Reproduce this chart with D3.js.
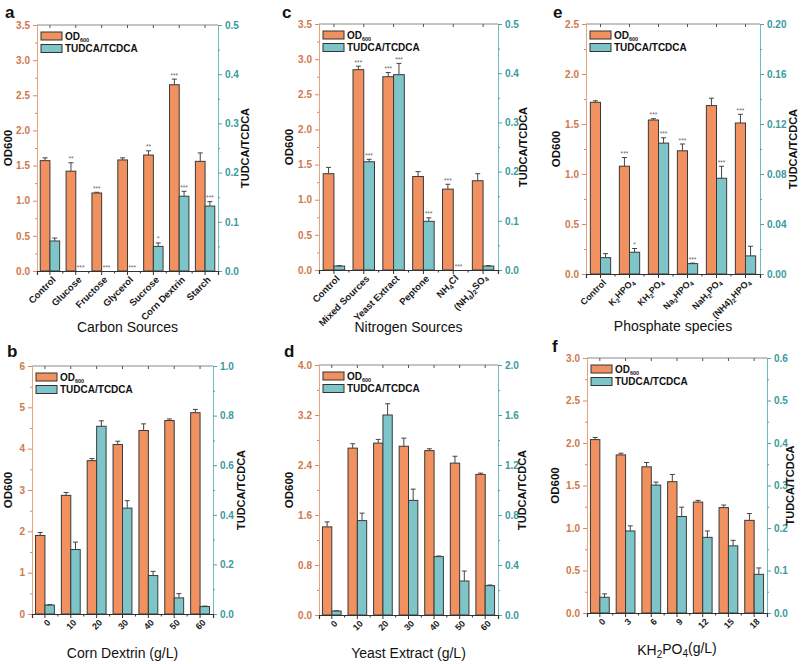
<!DOCTYPE html>
<html>
<head>
<meta charset="utf-8">
<script src="https://cdn.jsdelivr.net/npm/d3@7"></script>
<style>
  body { margin: 0; background: #fff; }
  svg { font-family: "Liberation Sans", Arial, sans-serif; }
</style>
</head>
<body>
<script>
// ---- a: carbon sources
const carbonCats = ["Control", "Glucose", "Fructose", "Glycerol", "Sucrose", "Corn Dextrin", "Starch"];
const carbonOD = [1.57, 1.42, 1.11, 1.58, 1.65, 2.65, 1.56];
const carbonODErr = [0.04, 0.12, 0.01, 0.03, 0.06, 0.08, 0.12];
const carbonRatio = [0.061, 0, 0, 0, 0.05, 0.152, 0.132];
const carbonRatioErr = [0.006, 0, 0, 0, 0.007, 0.01, 0.009];
const carbonODSig = ["", "**", "***", "", "**", "***", ""];
const carbonRatioSig = ["", "***", "***", "***", "*", "***", "***"];

// ---- c: nitrogen sources
const nitroCats = ["Control", "Mixed Sources", "Yeast Extract", "Peptone", "NH_4Cl", "(NH_4)_2SO_4"];
const nitroOD = [1.37, 2.85, 2.75, 1.33, 1.15, 1.27];
const nitroODErr = [0.09, 0.05, 0.06, 0.07, 0.07, 0.1];
const nitroRatio = [0.008, 0.22, 0.397, 0.099, 0, 0.008];
const nitroRatioErr = [0.001, 0.005, 0.023, 0.007, 0, 0.001];
const nitroODSig = ["", "***", "***", "", "***", ""];
const nitroRatioSig = ["", "***", "***", "***", "***", ""];

// ---- e: phosphate species
const phosCats = ["Control", "K_2HPO_4", "KH_2PO_4", "Na_2HPO_4", "NaH_2PO_4", "(NH4)_2HPO_4"];
const phosOD = [1.717, 1.078, 1.54, 1.232, 1.684, 1.51];
const phosODErr = [0.015, 0.087, 0.013, 0.068, 0.074, 0.087];
const phosRatio = [0.0131, 0.0174, 0.1047, 0.0083, 0.0766, 0.0145];
const phosRatioErr = [0.0032, 0.003, 0.0043, 0.0004, 0.0096, 0.0077];
const phosODSig = ["", "***", "***", "***", "", "***"];
const phosRatioSig = ["", "*", "***", "***", "***", ""];

// ---- b: corn dextrin
const dextrinCats = ["0", "10", "20", "30", "40", "50", "60"];
const dextrinOD = [1.9, 2.87, 3.71, 4.1, 4.44, 4.68, 4.87];
const dextrinODErr = [0.07, 0.07, 0.05, 0.08, 0.16, 0.04, 0.08];
const dextrinRatio = [0.036, 0.26, 0.757, 0.427, 0.155, 0.065, 0.03];
const dextrinRatioErr = [0.002, 0.03, 0.022, 0.03, 0.017, 0.017, 0.002];

// ---- d: yeast extract
const yeastCats = ["0", "10", "20", "30", "40", "50", "60"];
const yeastOD = [1.41, 2.67, 2.75, 2.7, 2.63, 2.43, 2.25];
const yeastODErr = [0.08, 0.07, 0.06, 0.13, 0.03, 0.11, 0.02];
const yeastRatio = [0.032, 0.755, 1.6, 0.917, 0.467, 0.272, 0.235];
const yeastRatioErr = [0.002, 0.06, 0.09, 0.09, 0.005, 0.08, 0.005];

// ---- f: KH2PO4
const khCats = ["0", "3", "6", "9", "12", "15", "18"];
const khOD = [2.04, 1.86, 1.72, 1.545, 1.305, 1.24, 1.09];
const khODErr = [0.025, 0.02, 0.05, 0.085, 0.02, 0.03, 0.08];
const khRatio = [0.037, 0.193, 0.301, 0.227, 0.178, 0.158, 0.091];
const khRatioErr = [0.008, 0.012, 0.007, 0.022, 0.015, 0.013, 0.015];

const W = 802, H = 664;
const orange = "#f0915f", teal = "#7dc5c9";
const orangeText = "#d0784b", tealText = "#3a9a9c";

const svg = d3.select("body").append("svg")
  .attr("width", W).attr("height", H);

// "K_2HPO_4" -> tspans, digit after "_" is a subscript
function richText(sel, str, subSize) {
  const parts = str.split(/(_\d)/).filter(s => s.length);
  let afterSub = false;
  parts.forEach(function(s) {
    if (s[0] === "_") {
      sel.append("tspan").attr("font-size", subSize)
        .attr("dy", afterSub ? null : "0.3em").text(s.slice(1));
      afterSub = true;
    } else {
      sel.append("tspan").attr("dy", afterSub ? "-0.3em" : null).text(s);
      afterSub = false;
    }
  });
}

function drawPanel(p) {
  const g = svg.append("g");
  const x = d3.scaleBand().domain(p.cats).range([p.l, p.r])
    .paddingInner(p.pad).paddingOuter(p.pad / 2);
  const xs = d3.scaleBand().domain([0, 1]).range([0, x.bandwidth()]);
  const yL = d3.scaleLinear().domain([0, p.lMax]).range([p.b, p.t]);
  const yR = d3.scaleLinear().domain([0, p.rMax]).range([p.b, p.t]);

  const rows = p.cats.map((c, i) => ({
    c: c, od: p.od[i], odErr: p.odErr[i], ratio: p.ratio[i], ratioErr: p.ratioErr[i],
    odSig: p.odSig ? p.odSig[i] : "", ratioSig: p.ratioSig ? p.ratioSig[i] : ""
  }));

  // top border with inward ticks
  g.append("line").attr("x1", p.l).attr("x2", p.r).attr("y1", p.t).attr("y2", p.t)
    .attr("stroke", "#8a8a8a").attr("stroke-width", 1);
  const topTicks = g.append("g").attr("transform", `translate(0,${p.t})`)
    .call(d3.axisTop(x).tickSize(-3).tickFormat(""));
  topTicks.select(".domain").remove();
  topTicks.selectAll("line").attr("stroke", "#555");

  // bars
  const series = [
    { key: "od", err: "odErr", sig: "odSig", y: yL, fill: orange, i: 0 },
    { key: "ratio", err: "ratioErr", sig: "ratioSig", y: yR, fill: teal, i: 1 }
  ];
  series.forEach(function(s) {
    const bw = xs.bandwidth();
    const grp = g.append("g").selectAll("g").data(rows).join("g")
      .attr("transform", d => `translate(${x(d.c) + xs(s.i)},0)`);
    grp.append("rect")
      .attr("x", 0).attr("width", bw)
      .attr("y", d => s.y(d[s.key]))
      .attr("height", d => s.y(0) - s.y(d[s.key]))
      .attr("fill", s.fill).attr("stroke", "#3a3a3a").attr("stroke-width", 1)
      .attr("display", d => d[s.key] > 0 ? null : "none");
    grp.append("line")
      .attr("x1", bw / 2).attr("x2", bw / 2)
      .attr("y1", d => s.y(d[s.key])).attr("y2", d => s.y(d[s.key] + d[s.err]))
      .attr("stroke", "#444").attr("stroke-width", 1);
    grp.append("line")
      .attr("x1", bw / 2 - 2.5).attr("x2", bw / 2 + 2.5)
      .attr("y1", d => s.y(d[s.key] + d[s.err])).attr("y2", d => s.y(d[s.key] + d[s.err]))
      .attr("stroke", "#444").attr("stroke-width", 1)
      .attr("display", d => d[s.key] > 0 ? null : "none");
    grp.append("text")
      .attr("x", bw / 2)
      .attr("y", d => s.y(d[s.key] + d[s.err]) - 1.5)
      .attr("text-anchor", "middle")
      .attr("font-size", 6.5).attr("fill", "#666")
      .text(d => d[s.sig]);
  });

  // left axis
  const lTicks = d3.range(0, p.lN + 1).map(i => i * p.lStep);
  const lMinor = d3.range(0, p.lN).map(i => (i + 0.5) * p.lStep);
  const ax = g.append("g").attr("transform", `translate(${p.l},0)`)
    .call(d3.axisLeft(yL).tickValues(lTicks).tickFormat(d3.format(p.lFmt)).tickSize(4).tickPadding(3));
  ax.select(".domain").attr("stroke", "#e8a27c");
  ax.selectAll("line").attr("stroke", "#d98a62");
  ax.selectAll("text").attr("fill", orangeText).attr("font-size", 10).attr("font-weight", "bold");
  const axm = g.append("g").attr("transform", `translate(${p.l},0)`)
    .call(d3.axisLeft(yL).tickValues(lMinor).tickFormat("").tickSize(2));
  axm.select(".domain").remove();
  axm.selectAll("line").attr("stroke", "#d98a62");

  // right axis
  const rTicks = d3.range(0, p.rN + 1).map(i => i * p.rStep);
  const rMinor = d3.range(0, p.rN).map(i => (i + 0.5) * p.rStep);
  const axr = g.append("g").attr("transform", `translate(${p.r},0)`)
    .call(d3.axisRight(yR).tickValues(rTicks).tickFormat(d3.format(p.rFmt)).tickSize(4).tickPadding(3));
  axr.select(".domain").attr("stroke", "#6fbcbf");
  axr.selectAll("line").attr("stroke", "#4aa5a8");
  axr.selectAll("text").attr("fill", tealText).attr("font-size", 10).attr("font-weight", "bold");
  const axrm = g.append("g").attr("transform", `translate(${p.r},0)`)
    .call(d3.axisRight(yR).tickValues(rMinor).tickFormat("").tickSize(2));
  axrm.select(".domain").remove();
  axrm.selectAll("line").attr("stroke", "#4aa5a8");

  // bottom axis
  const axb = g.append("g").attr("transform", `translate(0,${p.b})`)
    .call(d3.axisBottom(x).tickSize(4).tickFormat(""));
  axb.select(".domain").attr("stroke", "#333").attr("stroke-width", 1.2);
  axb.selectAll("line").attr("stroke", "#333");
  const bounds = p.cats.slice(1).map(c => x(c) - x.step() * x.paddingInner() / 2);
  g.append("g").selectAll("line").data(bounds).join("line")
    .attr("x1", d => d).attr("x2", d => d).attr("y1", p.b).attr("y2", p.b + 2.5)
    .attr("stroke", "#333");

  // category labels
  g.append("g").selectAll("text").data(p.cats).join("text")
    .attr("transform", d => `translate(${x(d) + x.bandwidth() / 2 + 4},${p.b + 7}) rotate(-45)`)
    .attr("text-anchor", "end").attr("dy", "0.35em")
    .attr("font-size", p.catSize).attr("font-weight", "bold").attr("fill", "#1a1a1a")
    .each(function(d) { richText(d3.select(this), d, p.catSize * 0.7); });

  // titles
  const mid = (p.t + p.b) / 2;
  g.append("text").attr("transform", `translate(${p.l - p.lOff},${mid}) rotate(-90)`)
    .attr("text-anchor", "middle").attr("font-size", 11.5).attr("font-weight", "bold")
    .attr("fill", "#111").text("OD600");
  g.append("text").attr("transform", `translate(${p.r + p.rOff},${mid}) rotate(-90)`)
    .attr("text-anchor", "middle").attr("font-size", 11).attr("font-weight", "bold")
    .attr("fill", "#111").text("TUDCA/TCDCA");
  const xt = g.append("text").attr("x", (p.l + p.r) / 2).attr("y", p.xTitleY)
    .attr("text-anchor", "middle").attr("font-size", 14).attr("fill", "#111");
  richText(xt, p.xTitle, 10);

  // panel letter
  g.append("text").attr("x", p.lx).attr("y", p.ly)
    .attr("font-size", 17).attr("font-weight", "bold").attr("fill", "#111").text(p.letter);

  // legend
  const lg = g.append("g").attr("transform", `translate(${p.l + 4},${p.t + 7})`);
  [orange, teal].forEach(function(c, i) {
    lg.append("rect").attr("x", 0).attr("y", i * 12.5).attr("width", 21).attr("height", 8)
      .attr("fill", c).attr("stroke", "#333").attr("stroke-width", 1);
  });
  const t1 = lg.append("text").attr("x", 24).attr("y", 7.5)
    .attr("font-size", 10).attr("font-weight", "bold").attr("fill", "#111");
  t1.append("tspan").text("OD");
  t1.append("tspan").attr("font-size", 5.5).attr("dy", 2).text("600");
  lg.append("text").attr("x", 24).attr("y", 20)
    .attr("font-size", 10).attr("font-weight", "bold").attr("fill", "#111").text("TUDCA/TCDCA");
}

drawPanel({ letter: "a", lx: 5, ly: 18, cats: carbonCats, od: carbonOD, odErr: carbonODErr,
  ratio: carbonRatio, ratioErr: carbonRatioErr, odSig: carbonODSig, ratioSig: carbonRatioSig,
  l: 37, r: 218, t: 25, b: 271, pad: 0.25,
  lMax: 3.5, lStep: 0.5, lN: 7, lFmt: ".1f", rMax: 0.5, rStep: 0.1, rN: 5, rFmt: ".1f",
  lOff: 25, rOff: 31, catSize: 9.5, xTitle: "Carbon Sources", xTitleY: 332 });

drawPanel({ letter: "c", lx: 282, ly: 18, cats: nitroCats, od: nitroOD, odErr: nitroODErr,
  ratio: nitroRatio, ratioErr: nitroRatioErr, odSig: nitroODSig, ratioSig: nitroRatioSig,
  l: 319, r: 498, t: 24, b: 270, pad: 0.28,
  lMax: 3.5, lStep: 0.5, lN: 7, lFmt: ".1f", rMax: 0.5, rStep: 0.1, rN: 5, rFmt: ".1f",
  lOff: 26, rOff: 29, catSize: 9.5, xTitle: "Nitrogen Sources", xTitleY: 332 });

drawPanel({ letter: "e", lx: 553, ly: 18, cats: phosCats, od: phosOD, odErr: phosODErr,
  ratio: phosRatio, ratioErr: phosRatioErr, odSig: phosODSig, ratioSig: phosRatioSig,
  l: 586, r: 760, t: 24, b: 274, pad: 0.3,
  lMax: 2.5, lStep: 0.5, lN: 5, lFmt: ".1f", rMax: 0.2, rStep: 0.04, rN: 5, rFmt: ".2f",
  lOff: 26, rOff: 37, catSize: 9, xTitle: "Phosphate species", xTitleY: 331 });

drawPanel({ letter: "b", lx: 7, ly: 357, cats: dextrinCats, od: dextrinOD, odErr: dextrinODErr,
  ratio: dextrinRatio, ratioErr: dextrinRatioErr,
  l: 32, r: 213, t: 366, b: 614, pad: 0.27,
  lMax: 6, lStep: 1, lN: 6, lFmt: "d", rMax: 1.0, rStep: 0.2, rN: 5, rFmt: ".1f",
  lOff: 20, rOff: 32, catSize: 9, xTitle: "Corn Dextrin (g/L)", xTitleY: 658 });

drawPanel({ letter: "d", lx: 284, ly: 357, cats: yeastCats, od: yeastOD, odErr: yeastODErr,
  ratio: yeastRatio, ratioErr: yeastRatioErr,
  l: 319, r: 498, t: 365, b: 615, pad: 0.27,
  lMax: 4.0, lStep: 0.8, lN: 5, lFmt: ".1f", rMax: 2.0, rStep: 0.4, rN: 5, rFmt: ".1f",
  lOff: 26, rOff: 28, catSize: 9, xTitle: "Yeast Extract (g/L)", xTitleY: 658 });

drawPanel({ letter: "f", lx: 552, ly: 352, cats: khCats, od: khOD, odErr: khODErr,
  ratio: khRatio, ratioErr: khRatioErr,
  l: 587, r: 767, t: 358, b: 613, pad: 0.27,
  lMax: 3.0, lStep: 0.5, lN: 6, lFmt: ".1f", rMax: 0.6, rStep: 0.1, rN: 6, rFmt: ".1f",
  lOff: 28, rOff: 27, catSize: 9, xTitle: "KH_2PO_4(g/L)", xTitleY: 655 });
</script>
</body>
</html>
